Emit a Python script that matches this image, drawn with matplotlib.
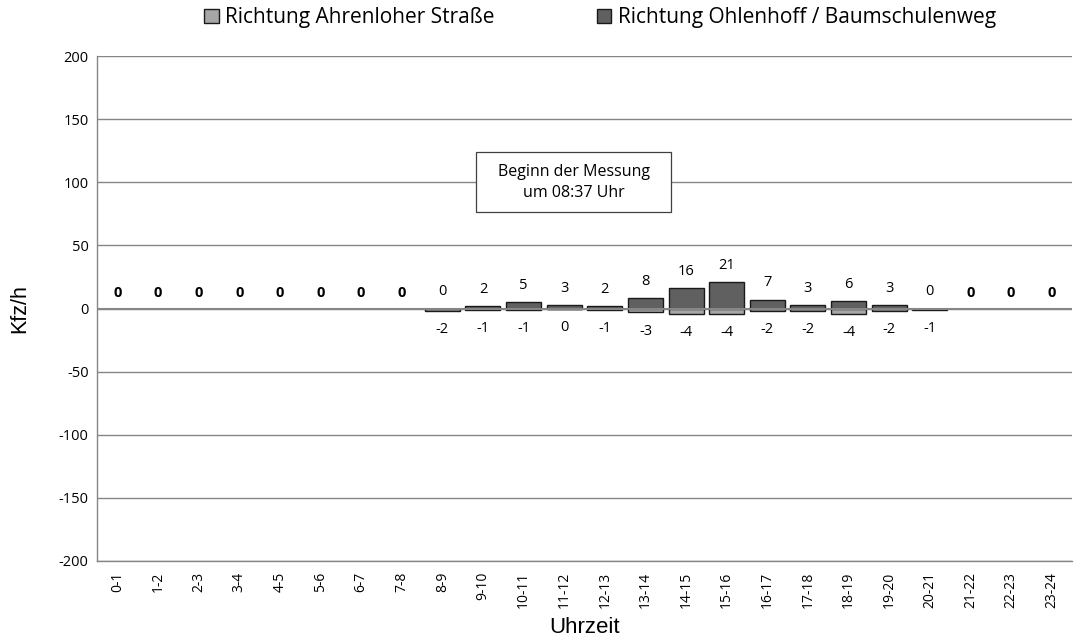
import matplotlib.pyplot as plt
from matplotlib.patches import Rectangle
import numpy as np

# Stundenwerte Kfz/h
hours = ['0-1', '1-2', '2-3', '3-4', '4-5', '5-6', '6-7', '7-8', '8-9', '9-10',
         '10-11', '11-12', '12-13', '13-14', '14-15', '15-16', '16-17', '17-18',
         '18-19', '19-20', '20-21', '21-22', '22-23', '23-24']
# None = keine Messung (fett "0")
ohlenhoff = [None]*8 + [0, 2, 5, 3, 2, 8, 16, 21, 7, 3, 6, 3, 0] + [None]*3
ahrenloher = [None]*8 + [-2, -1, -1, 0, -1, -3, -4, -4, -2, -2, -4, -2, -1] + [None]*3

plt.rcParams['font.family'] = ['Open Sans', 'DejaVu Sans']
plt.rcParams['axes.unicode_minus'] = False

fig = plt.figure(figsize=(10.82, 6.42), dpi=100)
ax = fig.add_axes([97/1082, 1-561/642, 975/1082, 505/642])

x = np.arange(len(hours))
meas = [i for i in range(len(hours)) if ohlenhoff[i] is not None]

w = 0.86
ax.bar(x[meas], [ohlenhoff[i] for i in meas], w, color='#606060', edgecolor='#1a1a1a',
       linewidth=1.0, zorder=3, label='Richtung Ohlenhoff / Baumschulenweg')
ax.bar(x[meas], [ahrenloher[i] for i in meas], w, color='#a6a6a6', edgecolor='#1a1a1a',
       linewidth=1.0, zorder=3, label='Richtung Ahrenloher Straße')

for i in range(len(hours)):
    if ohlenhoff[i] is None:
        ax.annotate('0', (x[i], 0), xytext=(0, 11.5), textcoords='offset points',
                    ha='center', va='center', fontsize=10.5, fontweight='bold')
        continue
    ax.annotate(str(ohlenhoff[i]), (x[i], ohlenhoff[i]), xytext=(0, 12),
                textcoords='offset points', ha='center', va='center', fontsize=10.5)
    ax.annotate(str(ahrenloher[i]), (x[i], ahrenloher[i]), xytext=(0, -13.5),
                textcoords='offset points', ha='center', va='center', fontsize=10.5)

ax.set_xlim(-0.5, len(hours) - 0.5)
ax.set_ylim(-200, 200)
ax.set_yticks(np.arange(-200, 201, 50))
ax.set_xticks(x)
ax.set_xticklabels(hours, rotation=90, fontsize=10)
ax.tick_params(axis='y', labelsize=10.5, length=0, pad=6)
ax.tick_params(axis='x', length=0, pad=8)
ax.yaxis.grid(True, color='#868686', linewidth=1.0, zorder=0)
ax.axhline(0, color='#868686', linewidth=1.5, zorder=4)
for s in ['top', 'right']:
    ax.spines[s].set_visible(False)
for s in ['left', 'bottom']:
    ax.spines[s].set_color('#868686')
    ax.spines[s].set_linewidth(1.0)

ax.set_ylabel('Kfz/h', fontsize=15.5, family=['Liberation Sans'])
ax.yaxis.set_label_coords(-67/975, 0.5)
ax.set_xlabel('Uhrzeit', fontsize=16, family=['Liberation Sans'])
ax.xaxis.set_label_coords(0.5, -56/505)

# Textfeld
ax.add_patch(Rectangle((8.83, 76.4), 4.8, 47.6, facecolor='white', edgecolor='#404040',
                       linewidth=0.9, zorder=5))
ax.text(11.23, 100, 'Beginn der Messung\num 08:37 Uhr', ha='center', va='center',
        fontsize=11.5, linespacing=1.45, zorder=6)

h, l = ax.get_legend_handles_labels()
fig.legend(h[::-1], l[::-1], loc='center', bbox_to_anchor=(600/1082, 0.972), ncol=2,
           frameon=False, fontsize=15, handlelength=0.7, handleheight=0.7,
           handletextpad=0.3, columnspacing=4.9, borderpad=0, borderaxespad=0)

fig.savefig('out.png', dpi=100)
